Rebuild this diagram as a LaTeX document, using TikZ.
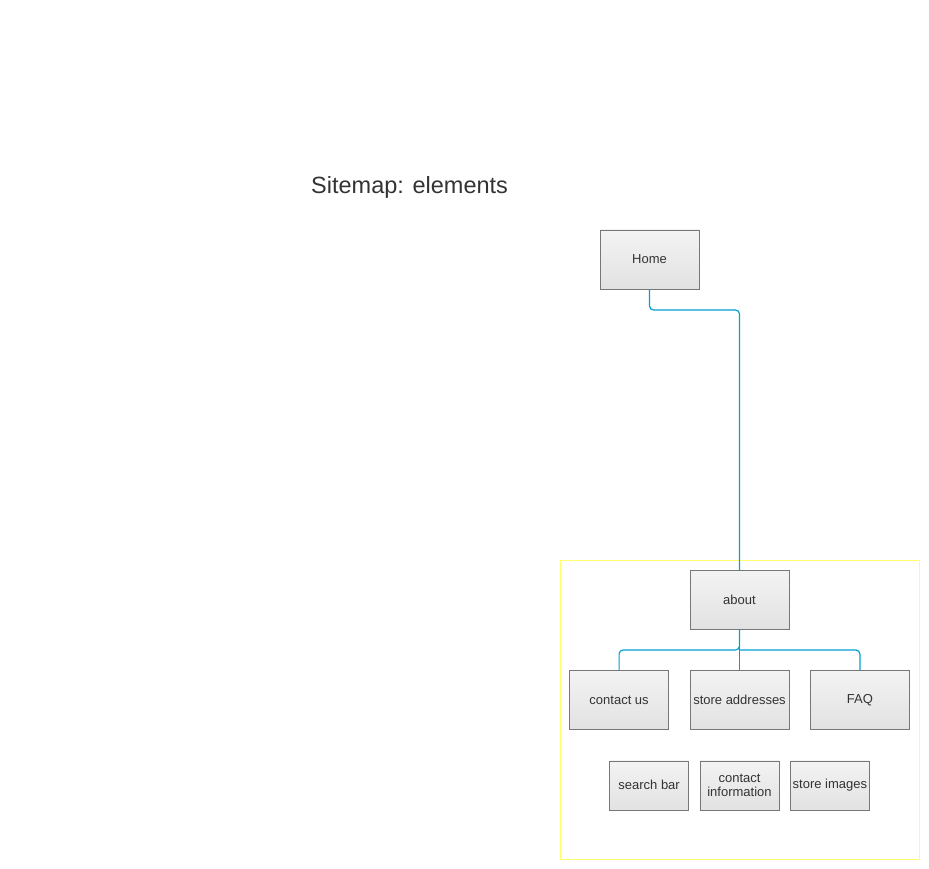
\documentclass[tikz,border=0pt]{standalone}
\usepackage{fontspec}
\setmainfont{Liberation Sans}
\usetikzlibrary{positioning}

\definecolor{linkblue}{RGB}{0,160,210}
\definecolor{boxtop}{RGB}{243,243,243}
\definecolor{boxbot}{RGB}{226,226,226}
\definecolor{boxline}{RGB}{119,119,119}
\definecolor{txtgray}{RGB}{51,51,51}
\definecolor{grpline}{RGB}{255,255,110}

\begin{document}
\begin{tikzpicture}[x=1pt, y=-1pt,
    page/.style={rectangle, draw=boxline, top color=boxtop, bottom color=boxbot,
      text=txtgray, minimum width=99pt, minimum height=59pt, inner sep=1pt,
      align=center, font=\fontsize{13}{14.5}\selectfont},
    subpage/.style={page, minimum width=79pt, minimum height=49pt},
    link/.style={draw=linkblue, line width=1.2pt, rounded corners=4pt}]

  \useasboundingbox (0,0) rectangle (929,869);

  % group frame
  \draw[grpline] (560,560) rectangle (919,859);

  \node[anchor=west, inner sep=0pt, text=txtgray, font=\fontsize{23.5}{28}\selectfont] (title) at (311,187) {Sitemap: elements};

  \node[page] (home) at (649.5,259.5) {Home};
  \node[page] (about) at (739.5,599.5) {about};
  \node[page, below=41pt of about] (stores) {store addresses};
  \node[page, left=21pt of stores] (contact) {contact us};
  \node[page, right=21pt of stores] (faq) {FAQ};

  \node[subpage, below=31pt of stores] (info) {contact\\information};
  \node[subpage, left=11pt of info] (search) {search bar};
  \node[subpage, right=11pt of info] (images) {store images};

  \coordinate (homebend) at (0,310);
  \coordinate (fork) at (0,650);
  \draw[link] (home.south) -- (home.south |- homebend) -| (about.north);
  \draw[link] (about.south) -- (about.south |- fork) -| (contact.north);
  \draw[link] (about.south |- fork) -| (faq.north);
  \draw[link] (about.south) -- (stores.north);
\end{tikzpicture}
\end{document}
